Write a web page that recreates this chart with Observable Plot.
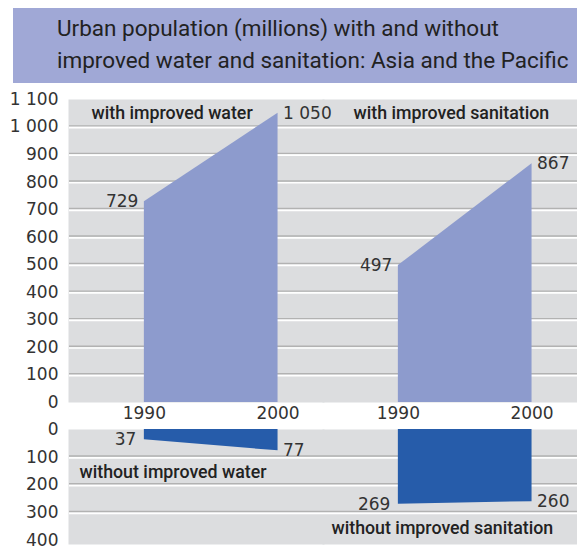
<!DOCTYPE html>
<html>
<head>
<meta charset="utf-8">
<script src="https://cdn.jsdelivr.net/npm/d3@7"></script>
<script src="https://cdn.jsdelivr.net/npm/@observablehq/plot@0.6"></script>
<style>
  body { margin: 0; background: white; }
  #wrap { position: relative; width: 577px; height: 549px; overflow: hidden; }
  #title { position: absolute; left: 13px; top: 8px; width: 564px; height: 75px; background: #a0a8d6;
    box-sizing: border-box; padding: 3.7px 0 0 44px; font-family: Roboto, "Open Sans", sans-serif;
    font-size: 22.5px; line-height: 32.6px; color: #222; white-space: nowrap; }
  #titleInner { display: inline-block; transform-origin: 0 0; }
  #top { position: absolute; left: 0; top: 88px; }
  #bot { position: absolute; left: 0; top: 428px; }
</style>
</head>
<body>
<div id="wrap">
  <div id="title"><div id="titleInner"><span id="t1">Urban population (millions) with and without</span><br><span id="t2">improved water and sanitation: Asia and the Pacific</span></div></div>
  <div id="top"></div>
  <div id="bot"></div>
</div>
<script>
const years = [1990, 2000];
const panels = ["water", "sanitation"];
const withWater = [729, 1050];
const withSanitation = [497, 867];
const withoutWater = [37, 77];
const withoutSanitation = [269, 260];
const topTitles = {water: "with improved water", sanitation: "with improved sanitation"};
const botTitles = {water: "without improved water", sanitation: "without improved sanitation"};
const topTicks = [0, 100, 200, 300, 400, 500, 600, 700, 800, 900, 1000, 1100];
const topGrid = [100, 200, 300, 400, 500, 600, 700, 800, 900, 1000];
const botTicks = [0, 100, 200, 300, 400];
const botGrid = [100, 200, 300];

// fit the condensed-looking title to the reference width
(function () {
  const w = document.getElementById("t2").getBoundingClientRect().width;
  const s = Math.min(1, 518 / w);
  document.getElementById("titleInner").style.transform = `scaleX(${s})`;
})();

const fmt = d => d3.format(",")(d).replace(/,/g, " ");
const rowsOf = (a, b) => years.flatMap((yr, i) => [
  {panel: "water", year: yr, value: a[i]},
  {panel: "sanitation", year: yr, value: b[i]}
]);
const topRows = rowsOf(withWater, withSanitation);
const botRows = rowsOf(withoutWater, withoutSanitation);

const gray = "#dcdddf";
const gridGray = "#b2b2b2";
const labelFont = {fontFamily: "Roboto", fontSize: 17.8, fontWeight: 500, fill: "#222"};
const common = {
  width: 577,
  marginLeft: 69,
  marginRight: 0,
  fx: {domain: panels, padding: 0, axis: null},
  style: {fontFamily: "DejaVu Sans", fontSize: "17px", color: "#333", background: "transparent", overflow: "visible"}
};

const topPlot = Plot.plot({
  ...common,
  height: 340,
  marginTop: 11,
  marginBottom: 26,
  facet: {data: topRows, x: "panel"},
  x: {domain: [1984.4, 2003.4], ticks: years, tickSize: 0, tickPadding: 4, tickFormat: d => String(d), label: null},
  y: {domain: [0, 1100], ticks: topTicks, tickSize: 0, tickPadding: 11, tickFormat: fmt, label: null},
  marks: [
    Plot.frame({fill: gray, stroke: null, insetLeft: -1, insetRight: -1}),
    Plot.ruleY(topGrid, {stroke: gridGray, strokeWidth: 1.4, dy: -1.2}),
    Plot.ruleY(topGrid, {stroke: "white", strokeWidth: 1.7, dy: 0.6}),
    Plot.areaY(topRows, {x: "year", y: "value", fill: "#8d9bcd"}),
    Plot.text(topRows, {filter: d => d.year === 1990, x: "year", y: "value", text: d => fmt(d.value), textAnchor: "end", dx: -6}),
    Plot.text(topRows, {filter: d => d.year === 2000, x: "year", y: "value", text: d => fmt(d.value), textAnchor: "start", dx: 5}),
    Plot.text(topRows, {filter: d => d.year === 1990 && d.panel === "water", text: d => topTitles[d.panel], frameAnchor: "top-left", dx: 22, dy: 7, ...labelFont}),
    Plot.text(topRows, {filter: d => d.year === 1990 && d.panel === "sanitation", text: d => topTitles[d.panel], frameAnchor: "top-left", dx: 30, dy: 7, ...labelFont})
  ]
});
document.getElementById("top").appendChild(topPlot);

const botPlot = Plot.plot({
  ...common,
  height: 121,
  marginTop: 1,
  marginBottom: 9,
  facet: {data: botRows, x: "panel"},
  x: {domain: [1984.4, 2003.4], axis: null},
  y: {domain: [0, 400], reverse: true, ticks: botTicks, tickSize: 0, tickPadding: 11, tickFormat: fmt, label: null},
  marks: [
    Plot.frame({fill: gray, stroke: null, insetLeft: -1, insetRight: -1, insetBottom: -4}),
    Plot.ruleY(botGrid, {stroke: gridGray, strokeWidth: 1.4, dy: -1.2}),
    Plot.ruleY(botGrid, {stroke: "white", strokeWidth: 1.7, dy: 0.6}),
    Plot.areaY(botRows, {x: "year", y: "value", fill: "#265caa"}),
    Plot.text(botRows, {filter: d => d.year === 1990, x: "year", y: "value", text: d => fmt(d.value), textAnchor: "end", dx: -8}),
    Plot.text(botRows, {filter: d => d.year === 2000, x: "year", y: "value", text: d => fmt(d.value), textAnchor: "start", dx: 5}),
    Plot.text(botRows, {filter: d => d.year === 1990 && d.panel === "water", text: d => botTitles[d.panel], frameAnchor: "top-left", dx: 10, dy: 36, ...labelFont}),
    Plot.text(botRows, {filter: d => d.year === 1990 && d.panel === "sanitation", text: d => botTitles[d.panel], frameAnchor: "top-left", dx: 8, dy: 92, ...labelFont})
  ]
});
document.getElementById("bot").appendChild(botPlot);
</script>
</body>
</html>
